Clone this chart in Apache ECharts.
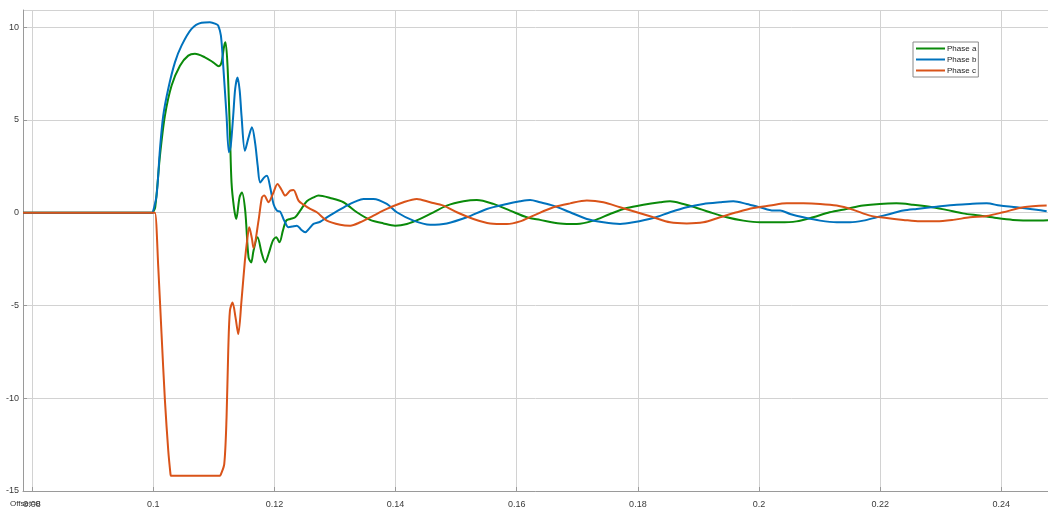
<!DOCTYPE html>
<html><head><meta charset="utf-8">
<script src="https://cdn.jsdelivr.net/npm/echarts/dist/echarts.min.js"></script>
<style>html,body{margin:0;padding:0;background:#fff}#c{width:1048px;height:509px}</style>
</head><body><div id="c"></div>
<script>
const seriesNames = ['Phase a', 'Phase b', 'Phase c'];
const seriesColors = ['#0a8a0a', '#0072bd', '#d95319'];
const xRange = [0.0785, 0.2477];
const yRange = [-15, 10.92];
const offsetText = 'Offset=0';

const phaseA = [
[0.0785,0],[0.0999,0],[0.1,0],[0.10033,0.3],[0.10111,3.07],[0.10193,5.23],[0.10303,6.85],[0.10441,7.92],[0.10578,8.46],
[0.10688,8.56],[0.10853,8.37],[0.1099,8.10],[0.11084,7.89],[0.11127,8.10],[0.11172,9.0],[0.11193,9.18],
[0.11226,7.92],[0.11266,4.33],[0.11292,1.63],[0.11332,0.29],[0.1137,-0.34],[0.11424,0.82],[0.11464,1.09],
[0.11518,0.11],[0.11573,-2.41],[0.11617,-2.68],[0.11655,-2.05],[0.11721,-1.33],[0.11794,-2.23],[0.11848,-2.68],
[0.11903,-2.23],[0.11975,-1.51],[0.1203,-1.33],[0.12084,-1.60],[0.1214,-0.97],[0.12195,-0.43],[0.12261,-0.34],
[0.12343,-0.25],[0.12426,0.11],[0.12535,0.61],[0.12646,0.82],[0.12728,0.92],[0.12921,0.79],[0.1314,0.56],
[0.13361,0.02],[0.13581,-0.39],[0.13801,-0.58],[0.13993,-0.70],[0.14187,-0.61],[0.14406,-0.34],[0.14626,0.02],
[0.14846,0.38],[0.15121,0.61],[0.15341,0.68],[0.15616,0.47],[0.1589,0.11],[0.16166,-0.25],[0.16386,-0.39],
[0.16716,-0.58],[0.16991,-0.61],[0.17266,-0.43],[0.17541,-0.07],[0.17817,0.25],[0.18092,0.43],[0.18366,0.56],
[0.18531,0.61],[0.18751,0.47],[0.18916,0.32],[0.19191,0.02],[0.19466,-0.25],[0.19741,-0.43],[0.20016,-0.52],
[0.2034,-0.52],[0.20616,-0.47],[0.20891,-0.25],[0.21166,0.02],[0.21441,0.20],[0.21716,0.38],[0.21991,0.47],
[0.22266,0.50],[0.22541,0.43],[0.22818,0.32],[0.23091,0.15],[0.23366,-0.04],[0.23641,-0.16],[0.23916,-0.29],
[0.24191,-0.39],[0.24521,-0.43],[0.24906,-0.39]
];

const phaseB = [
[0.0785,0],[0.0999,0],[0.1,0],[0.10054,0.9],[0.10111,3.43],[0.10165,5.23],[0.10248,6.68],[0.10358,8.10],[0.10467,9.00],
[0.10632,9.90],[0.10797,10.23],[0.10936,10.26],[0.1104,10.16],[0.11073,10.08],[0.11117,9.54],[0.11155,7.92],
[0.1121,5.23],[0.11249,3.25],[0.11279,3.6],[0.1132,5.23],[0.11353,6.68],[0.11391,7.28],[0.11427,6.58],
[0.11457,5.23],[0.11513,3.34],[0.11568,3.99],[0.11629,4.60],[0.11683,3.72],[0.11724,2.53],[0.11766,1.63],
[0.11832,1.90],[0.11876,1.99],[0.11931,1.36],[0.11985,0.47],[0.12041,0.11],[0.12096,0.05],[0.12162,-0.43],
[0.12233,-0.79],[0.12294,-0.75],[0.12371,-0.70],[0.12442,-0.92],[0.12508,-1.06],[0.12574,-0.86],[0.12645,-0.61],
[0.12756,-0.49],[0.12866,-0.25],[0.1302,0.05],[0.13196,0.38],[0.13333,0.59],[0.1347,0.74],[0.13635,0.74],
[0.13856,0.47],[0.14021,0.02],[0.14295,-0.43],[0.14571,-0.65],[0.14846,-0.58],[0.15177,-0.25],[0.15507,0.20],
[0.15837,0.47],[0.16056,0.61],[0.16221,0.68],[0.16386,0.56],[0.16601,0.38],[0.16881,0.02],[0.17157,-0.34],
[0.17431,-0.52],[0.17706,-0.61],[0.17926,-0.52],[0.18256,-0.29],[0.18531,0.02],[0.18807,0.29],[0.19081,0.47],
[0.19356,0.56],[0.19576,0.61],[0.19797,0.47],[0.20017,0.29],[0.20236,0.11],[0.20347,0.11],[0.20512,-0.07],
[0.20731,-0.25],[0.21007,-0.43],[0.21282,-0.52],[0.21502,-0.52],[0.21721,-0.43],[0.21942,-0.25],[0.22162,-0.07],
[0.22381,0.11],[0.22602,0.20],[0.22932,0.32],[0.23262,0.43],[0.23482,0.47],[0.23757,0.50],[0.23977,0.38],
[0.24252,0.29],[0.24582,0.15],[0.24748,0.07]
];

const phaseC = [
[0.0785,0],[0.1,0],[0.10028,0],[0.10083,-2.95],[0.10137,-6.54],[0.10193,-10.13],[0.10248,-12.83],[0.10285,-14.1],[0.10292,-14.18],[0.1031,-14.18],
[0.1110,-14.18],[0.11117,-14.1],[0.11172,-13.55],[0.1121,-11.04],[0.11238,-7.44],[0.11266,-5.28],[0.11309,-4.84],[0.11358,-5.64],
[0.11403,-6.54],[0.11457,-4.74],[0.11513,-2.59],[0.11556,-1.33],[0.11584,-0.79],[0.11629,-1.40],[0.11655,-1.90],
[0.11738,-0.43],[0.11794,0.82],[0.11832,0.92],[0.11903,0.56],[0.11975,1.01],[0.12051,1.55],[0.12124,1.19],
[0.12178,0.92],[0.12261,1.19],[0.12315,1.22],[0.12398,0.65],[0.1248,0.43],[0.12591,0.20],[0.12701,0.02],
[0.12866,-0.43],[0.13086,-0.65],[0.13251,-0.70],[0.13416,-0.52],[0.13635,-0.16],[0.13856,0.20],[0.1413,0.56],
[0.14351,0.74],[0.14571,0.56],[0.1479,0.38],[0.15012,0.02],[0.15285,-0.34],[0.15561,-0.58],[0.15837,-0.61],
[0.16056,-0.47],[0.16276,-0.16],[0.16606,0.29],[0.16881,0.50],[0.17157,0.65],[0.17431,0.56],[0.17706,0.29],
[0.17982,0.02],[0.18256,-0.25],[0.18531,-0.52],[0.18807,-0.58],[0.19081,-0.52],[0.19356,-0.25],[0.19632,0.02],
[0.19906,0.25],[0.20182,0.38],[0.20457,0.50],[0.20731,0.50],[0.21007,0.47],[0.21282,0.38],[0.21557,0.15],
[0.21832,-0.16],[0.22107,-0.29],[0.22381,-0.39],[0.22657,-0.47],[0.22932,-0.47],[0.23206,-0.39],[0.23482,-0.25],
[0.23757,-0.18],[0.24031,0.02],[0.24361,0.29],[0.24748,0.38]
];

const allData = [phaseA, phaseB, phaseC];
const chart = echarts.init(document.getElementById('c'), null, {renderer: 'canvas'});
const font = 'Liberation Sans, Arial, sans-serif';
chart.setOption({
  animation: false,
  backgroundColor: '#ffffff',
  textStyle: {fontFamily: font},
  grid: {left: 23, right: 0, top: 10, bottom: 18, containLabel: false},
  legend: {
    data: seriesNames,
    orient: 'vertical',
    left: 913, top: 42,
    icon: 'rect', itemWidth: 29, itemHeight: 2, itemGap: 2,
    backgroundColor: '#ffffff', borderColor: '#8a8a8a', borderWidth: 1,
    padding: [2, 2, 2, 3],
    textStyle: {fontSize: 8, color: '#222', fontFamily: font, padding: [0, 0, 0, -3], lineHeight: 9}
  },
  xAxis: {
    type: 'value', min: xRange[0], max: xRange[1], splitNumber: 8, minInterval: 0.02, maxInterval: 0.02,
    axisLine: {show: true, onZero: false, lineStyle: {color: '#9a9a9a', width: 1}},
    axisTick: {show: true, inside: true, length: 4, lineStyle: {color: '#9a9a9a'}},
    axisLabel: {showMinLabel: false, showMaxLabel: false, fontSize: 9, color: '#3a3a3a', margin: 9,
      formatter: v => String(+v.toFixed(2))},
    splitLine: {show: true, lineStyle: {color: '#d2d2d2', width: 1}}
  },
  yAxis: {
    type: 'value', min: yRange[0], max: yRange[1], interval: 5,
    axisLine: {show: true, lineStyle: {color: '#9a9a9a', width: 1}},
    axisTick: {show: true, inside: true, length: 4, lineStyle: {color: '#9a9a9a'}},
    axisLabel: {showMaxLabel: false, fontSize: 9, color: '#3a3a3a', margin: 4},
    splitLine: {show: true, lineStyle: {color: '#d2d2d2', width: 1}}
  },
  graphic: [{type: 'text', left: 10, top: 500, style: {text: offsetText, fontSize: 8, fill: '#333', fontFamily: font}}],
  series: seriesNames.map((n, i) => ({
    name: n, type: 'line', data: allData[i], showSymbol: false, symbol: 'none', smooth: 0.3,
    lineStyle: {color: seriesColors[i], width: 2}, itemStyle: {color: seriesColors[i]}, clip: true
  }))
});
</script></body></html>
